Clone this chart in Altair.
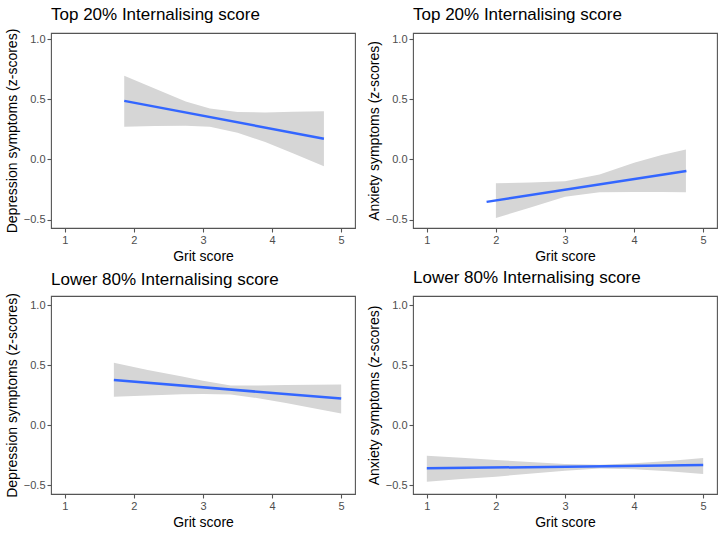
import altair as alt
import pandas as pd

FONT = "Liberation Sans"

# ---- Top-left: Depression, Top 20% ----
tl_rib_x = [1.86, 2.3, 2.75, 3.1, 3.5, 3.9, 4.3, 4.75]
tl_rib_lo = [0.272, 0.277, 0.28, 0.272, 0.222, 0.144, 0.052, -0.056]
tl_rib_hi = [0.694, 0.588, 0.48, 0.422, 0.394, 0.39, 0.395, 0.40]
tl_line_x = [1.86, 4.75]
tl_line_y = [0.486, 0.172]

# ---- Top-right: Anxiety, Top 20% ----
tr_rib_x = [2.0, 2.5, 3.0, 3.5, 4.0, 4.4, 4.75]
tr_rib_lo = [-0.486, -0.40, -0.31, -0.273, -0.27, -0.27, -0.272]
tr_rib_hi = [-0.198, -0.192, -0.181, -0.125, -0.028, 0.036, 0.083]
tr_line_x = [1.865, 4.757]
tr_line_y = [-0.353, -0.097]

# ---- Bottom-left: Depression, Lower 80% ----
bl_rib_x = [1.71, 2.2, 2.7, 3.0, 3.4, 3.8, 4.2, 4.6, 5.0]
bl_rib_lo = [0.237, 0.248, 0.257, 0.26, 0.255, 0.225, 0.185, 0.14, 0.097]
bl_rib_hi = [0.52, 0.46, 0.405, 0.37, 0.33, 0.33, 0.334, 0.337, 0.34]
bl_line_x = [1.71, 5.0]
bl_line_y = [0.376, 0.222]

# ---- Bottom-right: Anxiety, Lower 80% ----
br_rib_x = [1.0, 1.5, 2.0, 3.0, 3.5, 4.0, 4.5, 5.0]
br_rib_lo = [-0.472, -0.45, -0.43, -0.38, -0.363, -0.369, -0.385, -0.408]
br_rib_hi = [-0.255, -0.273, -0.291, -0.325, -0.33, -0.319, -0.30, -0.274]
br_line_x = [1.0, 5.0]
br_line_y = [-0.361, -0.333]

x_ticks = [1, 2, 3, 4, 5]
y_ticks = [-0.5, 0.0, 0.5, 1.0]

BORDER = "#555555"


def panel(title, ytitle, rx, lo, hi, lx, ly, ydomain, height, toff):
    rib = pd.DataFrame({"x": rx, "lo": lo, "hi": hi})
    ln = pd.DataFrame({"x": lx, "y": ly})
    xs = alt.Scale(domain=[0.8, 5.2], nice=False, zero=False)
    ys = alt.Scale(domain=ydomain, nice=False, zero=False)
    xa = alt.Axis(values=x_ticks, format="d", title="Grit score")
    ya = alt.Axis(values=y_ticks, format=".1f", title=ytitle)
    area = alt.Chart(rib).mark_area(color="#D6D6D6", opacity=1).encode(
        x=alt.X("x:Q", scale=xs, axis=xa),
        y=alt.Y("lo:Q", scale=ys, axis=ya),
        y2="hi:Q",
    )
    line = alt.Chart(ln).mark_line(color="#3366FF", strokeWidth=2.5).encode(
        x="x:Q", y="y:Q"
    )
    return alt.layer(area, line).properties(
        width=304,
        height=height,
        title=alt.TitleParams(
            title,
            anchor="start",
            frame="group",
            offset=toff,
            baseline="alphabetic",
            fontSize=17,
            font=FONT,
            fontWeight="normal",
            color="black",
        ),
    )


p1 = panel("Top 20% Internalising score", "Depression symptoms (z-scores)",
           tl_rib_x, tl_rib_lo, tl_rib_hi, tl_line_x, tl_line_y, [-0.57, 1.05], 195, -9)
p2 = panel("Top 20% Internalising score", "Anxiety symptoms (z-scores)",
           tr_rib_x, tr_rib_lo, tr_rib_hi, tr_line_x, tr_line_y, [-0.57, 1.05], 195, -4)
p3 = panel("Lower 80% Internalising score", "Depression symptoms (z-scores)",
           bl_rib_x, bl_rib_lo, bl_rib_hi, bl_line_x, bl_line_y, [-0.575, 1.078], 198, -9)
p4 = panel("Lower 80% Internalising score", "Anxiety symptoms (z-scores)",
           br_rib_x, br_rib_lo, br_rib_hi, br_line_x, br_line_y, [-0.575, 1.078], 198, -4)

chart = alt.vconcat(
    alt.hconcat(p1, p2, spacing=10),
    alt.hconcat(p3, p4, spacing=10),
    spacing=4,
).properties(
    padding={"left": 4, "top": 5, "right": 0, "bottom": 0},
    background="white",
).configure_view(
    stroke=BORDER, strokeWidth=1.1
).configure_axis(
    domain=False,
    grid=False,
    ticks=True,
    tickColor=BORDER,
    tickSize=4,
    tickWidth=1.1,
    labelPadding=2,
    labelFont=FONT,
    labelFontSize=11,
    labelColor="#4D4D4D",
    titleFont=FONT,
    titleFontSize=14,
    titleFontWeight="normal",
    titleColor="black",
    titlePadding=4,
)

chart.save("out.html", embed_options={"renderer": "svg", "actions": False})
